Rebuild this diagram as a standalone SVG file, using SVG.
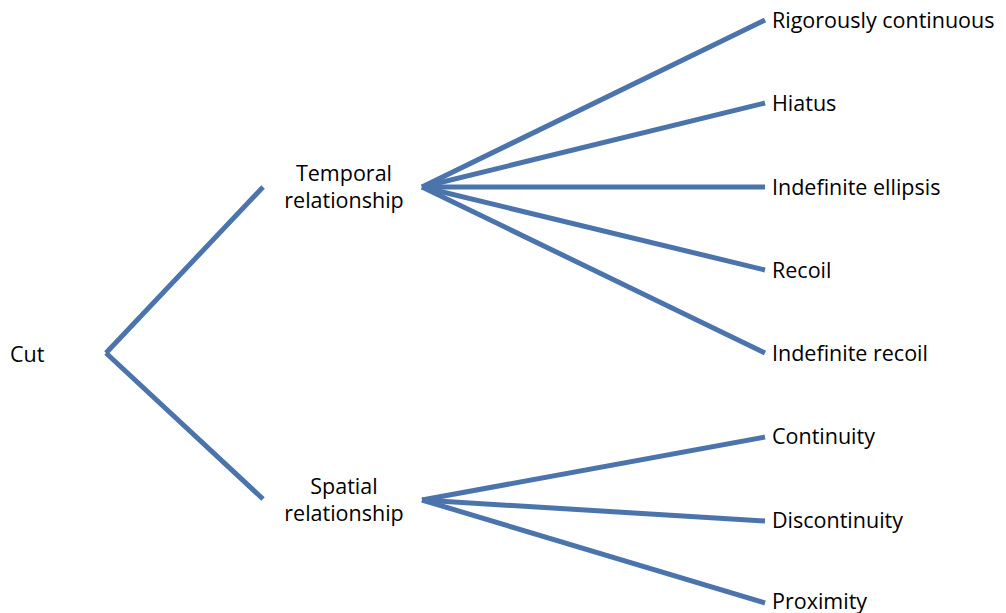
<svg xmlns="http://www.w3.org/2000/svg" width="1006" height="613" viewBox="0 0 1006 613">
<style>
text{font-family:"Open Sans",Lato,sans-serif;font-size:21.5px;fill:#000}
.c line{stroke:#4a74ab;stroke-width:5;stroke-linecap:butt}
</style>
<rect width="1006" height="613" fill="#fff"/>
<g class="c" id="connectors">
<line x1="106" y1="353" x2="263" y2="187"/>
<line x1="106" y1="353" x2="263" y2="499"/>
<line x1="422" y1="187" x2="765" y2="20"/>
<line x1="422" y1="187" x2="765" y2="103"/>
<line x1="422" y1="187" x2="765" y2="187"/>
<line x1="422" y1="187" x2="765" y2="270"/>
<line x1="422" y1="187" x2="765" y2="353"/>
<line x1="422" y1="500" x2="765" y2="437"/>
<line x1="422" y1="500" x2="765" y2="521"/>
<line x1="422" y1="500" x2="765" y2="603"/>
</g>
<g id="cut"><text x="10" y="362">Cut</text></g>
<g id="temporal"><text x="344" y="181" text-anchor="middle">Temporal</text><text x="344" y="208" text-anchor="middle">relationship</text></g>
<g id="spatial"><text x="344" y="494" text-anchor="middle">Spatial</text><text x="344" y="521" text-anchor="middle">relationship</text></g>
<g id="rigorously"><text x="772" y="28">Rigorously continuous</text></g>
<g id="hiatus"><text x="772" y="111">Hiatus</text></g>
<g id="ellipsis"><text x="772" y="195">Indefinite ellipsis</text></g>
<g id="recoil"><text x="772" y="278">Recoil</text></g>
<g id="indefrecoil"><text x="772" y="361">Indefinite recoil</text></g>
<g id="continuity"><text x="772" y="444">Continuity</text></g>
<g id="discontinuity"><text x="772" y="528">Discontinuity</text></g>
<g id="proximity"><text x="772" y="609">Proximity</text></g>
</svg>
